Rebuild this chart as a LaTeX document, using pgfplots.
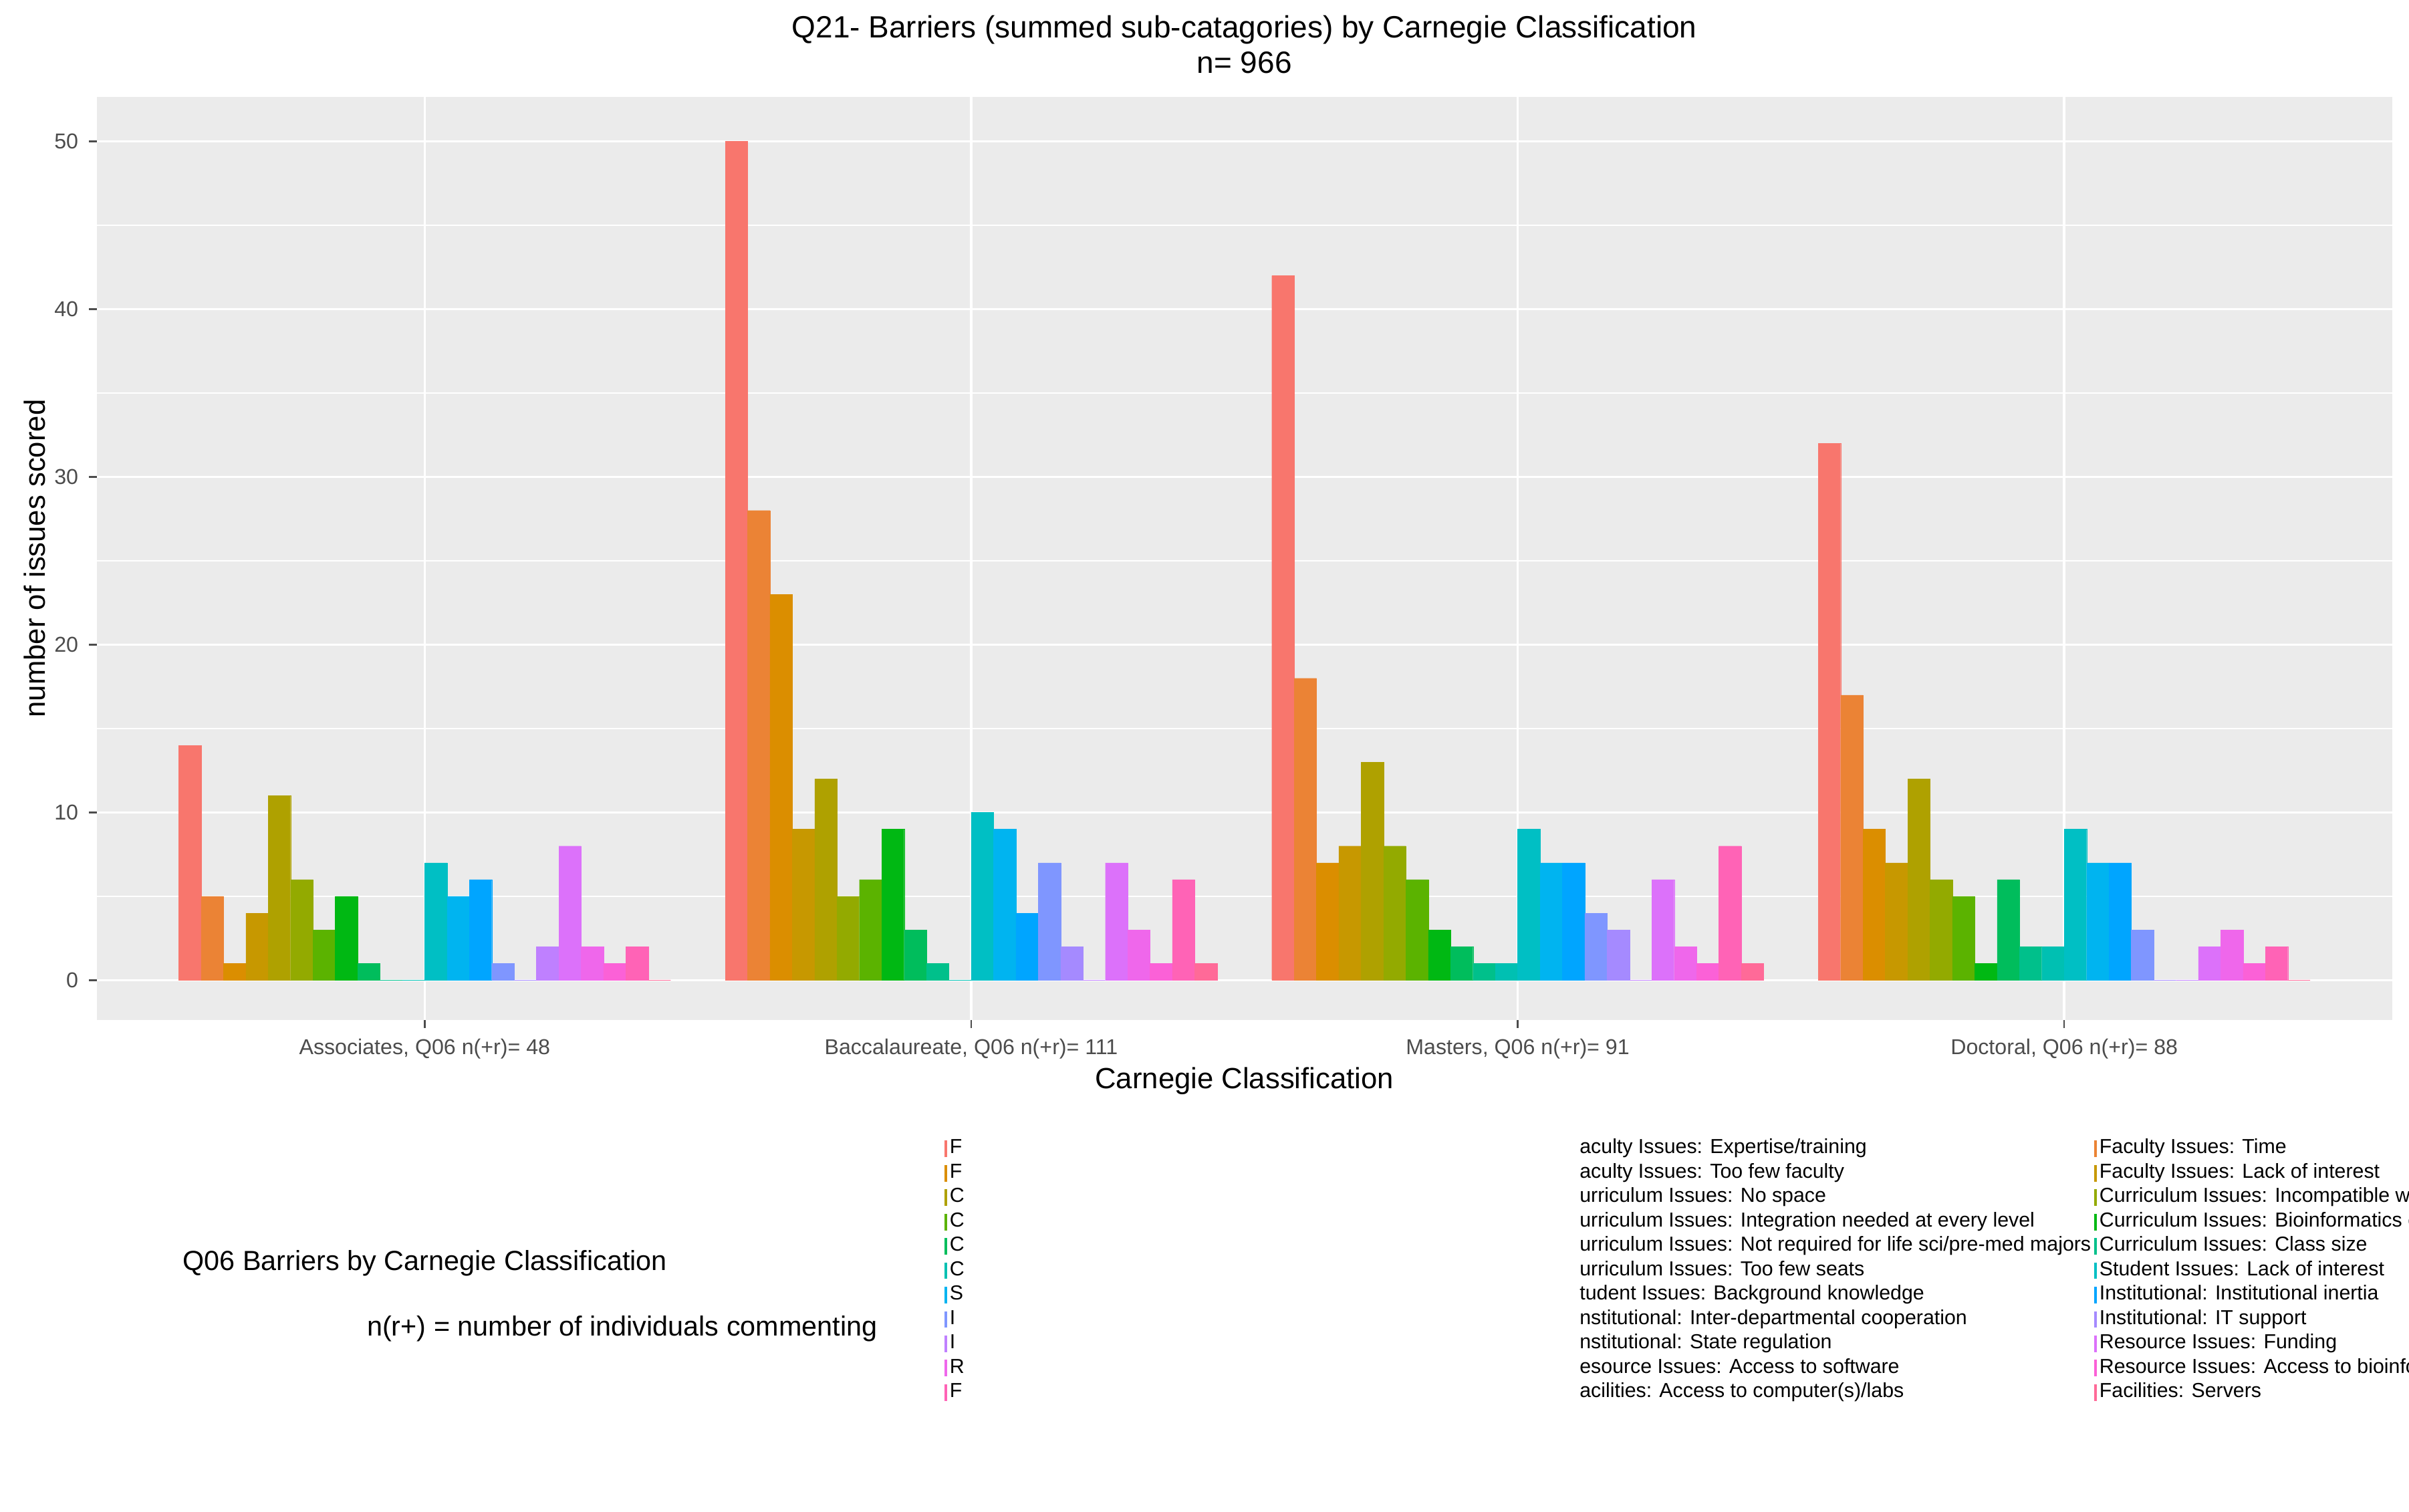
\documentclass[border=0pt]{standalone}
\usepackage{pgfplots}
\pgfplotsset{compat=1.18}
\usepackage{pgfplotstable}
\usepackage{fontspec}
\setmainfont{Liberation Sans}
\definecolor{c1}{HTML}{F8766D}\definecolor{c2}{HTML}{EB8335}
\definecolor{c3}{HTML}{DB8E00}\definecolor{c4}{HTML}{C79800}
\definecolor{c5}{HTML}{AFA100}\definecolor{c6}{HTML}{93AA00}
\definecolor{c7}{HTML}{5BB300}\definecolor{c8}{HTML}{00B813}
\definecolor{c9}{HTML}{00BD5C}\definecolor{c10}{HTML}{00C08B}
\definecolor{c11}{HTML}{00C0B2}\definecolor{c12}{HTML}{00BFC4}
\definecolor{c13}{HTML}{00B4F0}\definecolor{c14}{HTML}{00A5FF}
\definecolor{c15}{HTML}{7F96FF}\definecolor{c16}{HTML}{A58AFF}
\definecolor{c17}{HTML}{BF80FF}\definecolor{c18}{HTML}{DC71FA}
\definecolor{c19}{HTML}{EF67EB}\definecolor{c20}{HTML}{FB61D7}
\definecolor{c21}{HTML}{FF63B6}\definecolor{c22}{HTML}{FF6A98}
\pgfplotstableread{
g s1 s2 s3 s4 s5 s6 s7 s8 s9 s10 s11 s12 s13 s14 s15 s16 s17 s18 s19 s20 s21 s22
1 14 5 1 4 11 6 3 5 1 0 0 7 5 6 1 0 2 8 2 1 2 0
2 50 28 23 9 12 5 6 9 3 1 0 10 9 4 7 2 0 7 3 1 6 1
3 42 18 7 8 13 8 6 3 2 1 1 9 7 7 4 3 0 6 2 1 8 1
4 32 17 9 7 12 6 5 1 6 2 2 9 7 7 3 0 0 2 3 1 2 0
}\data
\newcommand{\bw}{0.040909}
\newcommand{\bp}[3]{\addplot[fill=c#1,draw=c#1,line width=0.05pt] table[x expr={\thisrow{g}-0.45+\bw*(#1-0.5)},y=s#1]{\data};\addlegendentry{#3#2}}
\newcommand{\LL}[1]{\makebox[205pt][l]{#1}}
\begin{document}
\begin{tikzpicture}
\useasboundingbox (-31.5pt,-160pt) rectangle (752.5pt,332pt);
\begin{axis}[
 scale only axis, width=747pt, height=300.5pt,
 xmin=0.4, xmax=4.6, ymin=-2.38, ymax=52.66,
 ybar, bar width=\bw, bar shift=0pt,
 axis background/.style={fill=black!8},
 axis line style={draw=none},
 xtick={1,2,3,4},
 xticklabels={{Associates, Q06 n(+r)= 48},{Baccalaureate, Q06 n(+r)= 111},{Masters, Q06 n(+r)= 91},{Doctoral, Q06 n(+r)= 88}},
 ytick={0,10,20,30,40,50}, minor ytick={5,15,25,35,45},
 grid=both, major grid style={white,line width=0.8pt}, minor grid style={white,line width=0.4pt},
 tick style={black!70,line width=0.5pt}, major tick length=2.5pt, minor tick length=0pt,
 tick align=outside, tick pos=left,
 ticklabel style={font=\fontsize{7}{8}\selectfont, text=black!70},
 /pgf/number format/assume math mode=true,
 xlabel={Carnegie Classification}, ylabel={number of issues scored},
 label style={font=\fontsize{9.5}{11}\selectfont},
 xlabel style={yshift=4pt}, ylabel style={yshift=-4pt},
 title={Q21- Barriers (summed sub-catagories) by Carnegie Classification\\n= 966},
 title style={align=center,font=\fontsize{10}{11.5}\selectfont,yshift=-2pt},
 legend columns=2,
 legend cell align=left,
 legend image code/.code={\fill[#1] (0pt,-2.6pt) rectangle (0.7pt,2.6pt);},
 legend style={at={(0.365,-0.118)},anchor=north west,draw=none,fill=none,
   font=\fontsize{6.6}{7}\selectfont, row sep=-0.35pt,
   nodes={inner sep=1pt}},
 clip=false,
]
\bp{1}{Faculty Issues: Expertise/training}{\LL}
\bp{2}{Faculty Issues: Time}{}
\bp{3}{Faculty Issues: Too few faculty}{\LL}
\bp{4}{Faculty Issues: Lack of interest}{}
\bp{5}{Curriculum Issues: No space}{\LL}
\bp{6}{Curriculum Issues: Incompatible with current curriculum}{}
\bp{7}{Curriculum Issues: Integration needed at every level}{\LL}
\bp{8}{Curriculum Issues: Bioinformatics curriculum is under development}{}
\bp{9}{Curriculum Issues: Not required for life sci/pre-med majors}{\LL}
\bp{10}{Curriculum Issues: Class size}{}
\bp{11}{Curriculum Issues: Too few seats}{\LL}
\bp{12}{Student Issues: Lack of interest}{}
\bp{13}{Student Issues: Background knowledge}{\LL}
\bp{14}{Institutional: Institutional inertia}{}
\bp{15}{Institutional: Inter-departmental cooperation}{\LL}
\bp{16}{Institutional: IT support}{}
\bp{17}{Institutional: State regulation}{\LL}
\bp{18}{Resource Issues: Funding}{}
\bp{19}{Resource Issues: Access to software}{\LL}
\bp{20}{Resource Issues: Access to bioinformatics lesson plans/curricula}{}
\bp{21}{Facilities: Access to computer(s)/labs}{\LL}
\bp{22}{Facilities: Servers}{}
\node[anchor=west,font=\fontsize{9}{10}\selectfont] at (rel axis cs:0.0328,-0.263) {Q06 Barriers by Carnegie Classification};
\node[anchor=west,font=\fontsize{9}{10}\selectfont] at (rel axis cs:0.113,-0.334) {n(r+) = number of individuals commenting};
\end{axis}
\end{tikzpicture}
\end{document}
